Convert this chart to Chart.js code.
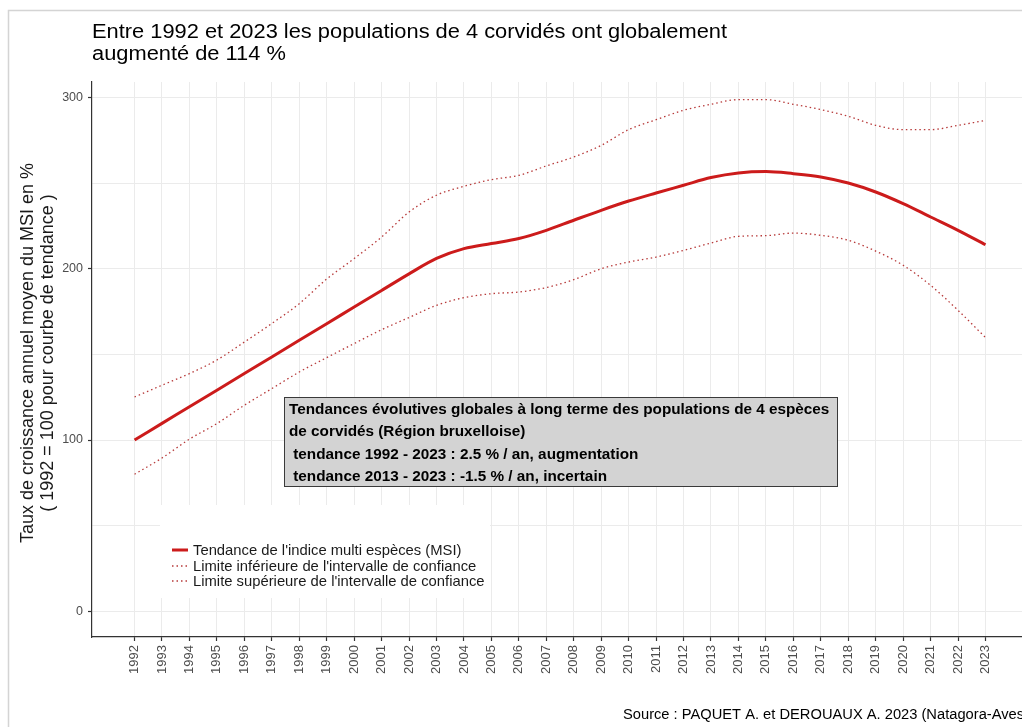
<!DOCTYPE html>
<html lang="fr">
<head>
<meta charset="utf-8">
<title>Corvidés – Région bruxelloise</title>
<script src="https://cdn.jsdelivr.net/npm/chart.js@4/dist/chart.umd.min.js"></script>
<style>
  html, body { margin: 0; padding: 0; background: #ffffff; overflow: hidden; }
  canvas { display: block; }
</style>
</head>
<body>
<canvas id="c" width="1022" height="727"></canvas>
<script>
// Années suivies
const years = [1992, 1993, 1994, 1995, 1996, 1997, 1998, 1999, 2000, 2001, 2002,
  2003, 2004, 2005, 2006, 2007, 2008, 2009, 2010, 2011, 2012, 2013, 2014, 2015,
  2016, 2017, 2018, 2019, 2020, 2021, 2022, 2023];

// Indice multi-espèces (courbe de tendance, 1992 = 100)
const msi = [100.0, 109.7, 119.4, 129.1, 138.8, 148.5, 158.2, 167.9, 177.6, 187.3,
  197.0, 206.0, 211.7, 214.7, 217.6, 222.4, 228.3, 234.1, 239.5, 244.2, 248.7,
  253.2, 255.9, 256.7, 255.5, 253.6, 250.0, 244.8, 238.0, 230.2, 222.4, 214.0];

// Limite inférieure de l'intervalle de confiance
const lower = [80.0, 89.5, 100.5, 109.6, 120.3, 130.0, 139.7, 148.1, 156.3, 164.4,
  171.5, 178.6, 183.1, 185.4, 186.4, 189.0, 193.6, 200.0, 203.9, 206.8, 210.7,
  215.0, 218.9, 219.3, 220.8, 219.5, 216.6, 210.3, 202.0, 190.3, 175.7, 159.8];

// Limite supérieure de l'intervalle de confiance
const upper = [125.1, 132.0, 138.8, 146.7, 157.2, 168.0, 179.6, 194.0, 205.9, 218.5,
  233.1, 242.9, 248.1, 252.0, 254.5, 260.0, 265.2, 272.0, 281.2, 287.0, 292.5,
  296.0, 298.7, 298.7, 296.0, 292.9, 289.0, 283.7, 281.2, 281.2, 283.7, 286.6];

// Graduations de l'axe vertical (majeures tous les 100, mineures tous les 50)
const yTicks = [0, 50, 100, 150, 200, 250, 300];
const yLabelled = [0, 100, 200, 300];

// Textes
const titleLines = [
  "Entre 1992 et 2023 les populations de 4 corvidés ont globalement",
  "augmenté de 114 %"
];
const yTitleLines = [
  "Taux de croissance annuel moyen du MSI en %",
  "( 1992 = 100 pour courbe de tendance )"
];
const seriesNames = [
  "Tendance de l'indice multi espèces (MSI)",
  "Limite inférieure de l'intervalle de confiance",
  "Limite supérieure de l'intervalle de confiance"
];
const boxLines = [
  "Tendances évolutives globales à long terme des populations de 4 espèces",
  "de corvidés (Région bruxelloise)",
  " tendance 1992 - 2023 : 2.5 % / an, augmentation",
  " tendance 2013 - 2023 : -1.5 % / an, incertain"
];
const sourceText = "Source : PAQUET A. et DEROUAUX A. 2023 (Natagora-Aves)";

const FONT = "'Liberation Sans', Arial, Helvetica, sans-serif";
const RED = '#cc1b1b';
const RED_DOT = '#b73a3a';
const GRID = '#ebebeb';
const AXIS = '#333333';
const TICK_TXT = '#4d4d4d';

const toPoints = arr => years.map((yr, i) => ({ x: yr, y: arr[i] }));

// Décor : cadre, titre, titre d'axe, légende, encadré, source
const decor = {
  id: 'decor',
  beforeDatasetsDraw(chart) {
    const ctx = chart.ctx;
    // fond blanc de la légende (masque la grille)
    ctx.save();
    ctx.fillStyle = '#ffffff';
    ctx.fillRect(160, 505, 330, 93);
    ctx.restore();
  },
  afterDatasetsDraw(chart) {
    const ctx = chart.ctx;
    ctx.save();

    // cadre extérieur
    ctx.strokeStyle = '#d4d4d4';
    ctx.lineWidth = 1.5;
    ctx.beginPath();
    ctx.moveTo(8.5, 727);
    ctx.lineTo(8.5, 10.5);
    ctx.lineTo(1022, 10.5);
    ctx.stroke();

    // titre (police légèrement élargie)
    ctx.fillStyle = '#000000';
    ctx.font = `19.5px ${FONT}`;
    ctx.textAlign = 'left';
    ctx.textBaseline = 'alphabetic';
    const stretch = 635 / ctx.measureText(titleLines[0]).width;
    ctx.save();
    ctx.translate(92, 0);
    ctx.scale(stretch, 1);
    ctx.fillText(titleLines[0], 0, 38);
    ctx.fillText(titleLines[1], 0, 60);
    ctx.restore();

    // titre de l'axe vertical
    ctx.save();
    ctx.translate(0, 353);
    ctx.rotate(-Math.PI / 2);
    ctx.font = `18px ${FONT}`;
    ctx.textAlign = 'center';
    ctx.textBaseline = 'middle';
    ctx.fillStyle = '#1a1a1a';
    ctx.fillText(yTitleLines[0], 0, 28);
    ctx.fillText(yTitleLines[1], 0, 48);
    ctx.restore();

    // légende
    const lx0 = 172, lx1 = 188, tx = 193;
    const rows = [550, 566, 581];
    ctx.font = `14.8px ${FONT}`;
    ctx.textAlign = 'left';
    ctx.textBaseline = 'middle';
    rows.forEach((ry, i) => {
      ctx.beginPath();
      if (i === 0) {
        ctx.strokeStyle = RED;
        ctx.lineWidth = 3;
        ctx.setLineDash([]);
      } else {
        ctx.strokeStyle = RED_DOT;
        ctx.lineWidth = 1.4;
        ctx.setLineDash([1.5, 3]);
      }
      ctx.moveTo(lx0, ry);
      ctx.lineTo(lx1, ry);
      ctx.stroke();
      ctx.setLineDash([]);
      ctx.fillStyle = '#1a1a1a';
      ctx.fillText(seriesNames[i], tx, ry + 0.5);
    });

    // encadré des tendances
    ctx.fillStyle = '#d3d3d3';
    ctx.fillRect(284.5, 397.5, 553, 89);
    ctx.strokeStyle = '#3a3a3a';
    ctx.lineWidth = 1;
    ctx.strokeRect(284.5, 397.5, 553, 89);
    ctx.fillStyle = '#000000';
    ctx.font = `bold 15.3px ${FONT}`;
    ctx.textBaseline = 'middle';
    const by = [410, 432, 455, 477];
    boxLines.forEach((t, i) => ctx.fillText(t, 289, by[i]));

    // source
    ctx.font = `14.7px ${FONT}`;
    ctx.fillStyle = '#000000';
    ctx.textAlign = 'left';
    ctx.fillText(sourceText, 623, 715);

    ctx.restore();
  }
};

new Chart(document.getElementById('c'), {
  type: 'line',
  data: {
    datasets: [
      {
        label: seriesNames[0],
        data: toPoints(msi),
        borderColor: RED,
        borderWidth: 3,
        pointRadius: 0,
        cubicInterpolationMode: 'monotone',
        order: 0
      },
      {
        label: seriesNames[1],
        data: toPoints(lower),
        borderColor: RED_DOT,
        borderWidth: 1.3,
        borderDash: [1.5, 3],
        pointRadius: 0,
        cubicInterpolationMode: 'monotone',
        order: 1
      },
      {
        label: seriesNames[2],
        data: toPoints(upper),
        borderColor: RED_DOT,
        borderWidth: 1.3,
        borderDash: [1.5, 3],
        pointRadius: 0,
        cubicInterpolationMode: 'monotone',
        order: 1
      }
    ]
  },
  options: {
    responsive: false,
    animation: false,
    events: [],
    layout: { padding: { top: 82, left: 0, right: 0, bottom: 0 } },
    plugins: {
      legend: { display: false },
      tooltip: { enabled: false },
      title: { display: false }
    },
    scales: {
      x: {
        type: 'linear',
        min: 1990.45,
        max: 2024.33,
        afterBuildTicks: s => { s.ticks = years.map(v => ({ value: v })); },
        afterFit: s => { s.height = 90; },
        border: { display: true, color: AXIS, width: 1.2 },
        grid: { color: GRID, lineWidth: 1, tickLength: 4, tickColor: AXIS, tickWidth: 1.2 },
        ticks: {
          autoSkip: false,
          minRotation: 90,
          maxRotation: 90,
          padding: 4,
          color: TICK_TXT,
          font: { family: FONT, size: 13 },
          callback: v => String(v)
        }
      },
      y: {
        type: 'linear',
        min: -15,
        max: 309,
        afterBuildTicks: s => { s.ticks = yTicks.map(v => ({ value: v })); },
        afterFit: s => { s.width = 92; },
        border: { display: true, color: AXIS, width: 1.2 },
        grid: {
          color: GRID,
          lineWidth: 1,
          tickLength: 4,
          tickWidth: 1.2,
          tickColor: c => (yLabelled.includes(c.tick && c.tick.value) ? AXIS : 'rgba(0,0,0,0)')
        },
        ticks: {
          padding: 5,
          color: TICK_TXT,
          font: { family: FONT, size: 12.5 },
          callback: v => (yLabelled.includes(v) ? String(v) : '')
        }
      }
    }
  },
  plugins: [decor]
});
</script>
</body>
</html>
